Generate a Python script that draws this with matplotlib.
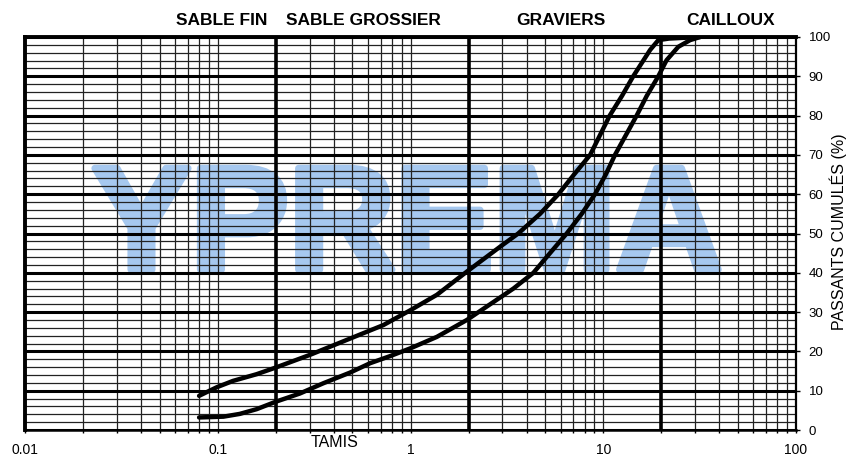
import numpy as np
import matplotlib
matplotlib.use("Agg")
import matplotlib.pyplot as plt
import matplotlib.patheffects as pe
from matplotlib.ticker import FixedLocator, NullFormatter

plt.rcParams['font.family'] = ['Liberation Sans', 'DejaVu Sans']

# fuseau granulometrique - courbe haute
upper_x = [0.080, 0.099, 0.120, 0.159, 0.20, 0.30, 0.505, 0.723, 1.0, 1.37, 1.96,
           2.91, 3.62, 4.70, 5.85, 7.05, 8.55, 10.8, 12.5, 14.3, 17.5, 19.3, 21.9, 31.8]
upper_y = [8.7, 10.9, 12.5, 14.2, 15.9, 19.1, 23.6, 26.7, 30.5, 34.4, 40.3,
           46.6, 50.0, 55.0, 60.0, 65.0, 70.0, 80.0, 85.0, 90.0, 96.7, 99.2, 99.6, 100.0]

# courbe basse
lower_x = [0.080, 0.107, 0.130, 0.159, 0.20, 0.267, 0.353, 0.485, 0.617, 0.783, 1.0,
           1.37, 1.96, 3.42, 4.34, 5.29, 6.46, 7.73, 9.06, 10.3, 11.5, 14.9, 16.8, 19.3,
           21.3, 24.5, 28.2, 31.8]
lower_y = [3.2, 3.4, 4.1, 5.3, 7.2, 9.3, 11.9, 14.6, 17.0, 18.8, 20.8,
           23.7, 28.0, 36.0, 40.0, 45.0, 50.0, 55.0, 60.0, 65.0, 70.0, 80.0, 85.0, 90.0,
           94.1, 97.5, 99.2, 100.0]

zones = ["SABLE FIN", "SABLE GROSSIER", "GRAVIERS", "CAILLOUX"]
zone_pos = [0.261, 0.429, 0.661, 0.861]
limits = [0.2, 2, 20]
y_ticks = list(range(0, 101, 10))
x_labels = ["0.01", "0.1", "1", "10", "100"]

fig = plt.figure(figsize=(8.48, 4.55), dpi=100)
ax = fig.add_axes([0.0295, 0.0549, 0.9092, 0.8638])
ax.set_xscale('log')
ax.set_xlim(0.01, 100)
ax.set_ylim(0, 100)

# filigrane
wm = ax.text(0.496, 0.505, "YPREMA", transform=ax.transAxes, fontsize=106,
             fontweight='bold', color='#a6c8ef', ha='center', va='center', zorder=0)
wm.set_path_effects([pe.withStroke(linewidth=5, foreground='#a6c8ef')])

# quadrillage
minors = [m * 10.0 ** d for d in range(-2, 2) for m in range(1, 10)] + [100]
for v in minors:
    if v in limits:
        continue
    ax.axvline(v, color='#222222', lw=0.9, zorder=1)
for v in limits:
    ax.axvline(v, color='black', lw=2.6, zorder=2)
for v in range(0, 101, 2):
    if v % 10 == 0:
        ax.axhline(v, color='black', lw=2.2, zorder=2)
    else:
        ax.axhline(v, color='#222222', lw=0.9, zorder=1)

ax.plot(upper_x, upper_y, color='black', lw=3.2, solid_capstyle='round',
        solid_joinstyle='round', zorder=5)
ax.plot(lower_x, lower_y, color='black', lw=3.2, solid_capstyle='round',
        solid_joinstyle='round', zorder=5)

# axes
ax.spines['left'].set_linewidth(2.8)
ax.spines['top'].set_linewidth(2.8)
ax.spines['right'].set_linewidth(1.6)
ax.spines['bottom'].set_linewidth(1.8)
for s in ax.spines.values():
    s.set_zorder(6)

ax.xaxis.set_major_locator(FixedLocator([0.01, 0.1, 1, 10, 100]))
ax.set_xticklabels(x_labels)
ax.xaxis.set_minor_locator(FixedLocator(minors))
ax.xaxis.set_minor_formatter(NullFormatter())
ax.tick_params(axis='x', which='both', direction='out', length=2, width=1, labelsize=10, pad=7)

ax.yaxis.tick_right()
ax.set_yticks(y_ticks)
ax.tick_params(axis='y', which='both', direction='out', length=3, width=1, labelsize=9.5, pad=6)

for name, pos in zip(zones, zone_pos):
    fig.text(pos, 0.955, name, fontsize=12.5, fontweight='bold', ha='center', va='center')

fig.text(0.395, 0.027, "TAMIS", fontsize=11.5, ha='center', va='center')
fig.text(0.988, 0.49, "PASSANTS CUMULÉS (%)", fontsize=11.5, rotation=90,
         ha='center', va='center')

fig.savefig("out.png", dpi=100)
